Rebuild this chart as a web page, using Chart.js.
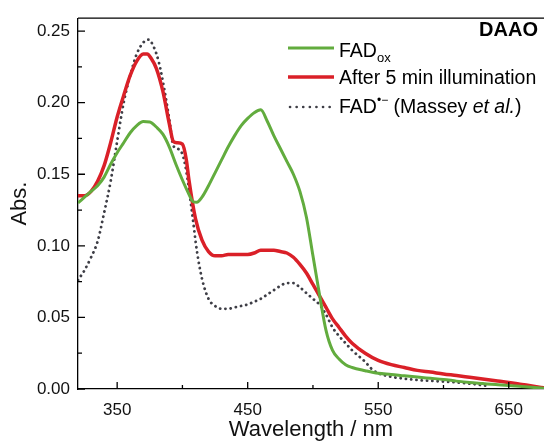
<!DOCTYPE html>
<html>
<head>
<meta charset="utf-8">
<script src="https://cdn.jsdelivr.net/npm/chart.js@4.4.1/dist/chart.umd.min.js"></script>
<style>
  html, body { margin: 0; padding: 0; background: #fff; }
  #wrap { width: 544px; height: 441px; }
</style>
</head>
<body>
<div id="wrap"><canvas id="absChart"></canvas></div>
<script>
// FAD ox (green)
var oxNm  = [320, 325, 330, 335, 340, 345, 350, 355, 360, 365, 370, 375, 380, 385, 390, 395, 400, 405, 408, 411, 415, 420, 425, 430, 435, 440, 445, 450, 455, 460, 465, 470, 475, 480, 485, 490, 495, 500, 505, 510, 515, 520, 525, 530, 540, 550, 560, 570, 580, 590, 600, 610, 620, 630, 640, 650, 660, 670, 677];
var oxAbs = [0.130, 0.134, 0.138, 0.142, 0.148, 0.157, 0.165, 0.172, 0.179, 0.184, 0.1868, 0.1865, 0.183, 0.178, 0.169, 0.157, 0.146, 0.136, 0.131, 0.1305, 0.134, 0.142, 0.151, 0.160, 0.169, 0.177, 0.184, 0.189, 0.193, 0.195, 0.187, 0.177, 0.168, 0.159, 0.150, 0.138, 0.120, 0.093, 0.066, 0.041, 0.027, 0.021, 0.017, 0.015, 0.0128, 0.011, 0.0102, 0.0092, 0.0083, 0.0075, 0.0067, 0.0055, 0.0045, 0.0038, 0.0031, 0.0025, 0.0017, 0.001, 0.0006];

// after 5 min illumination (red)
var illNm  = [320, 325, 330, 335, 340, 345, 350, 355, 360, 365, 370, 373, 376, 380, 385, 390, 393, 396, 400, 403, 405, 410, 415, 420, 425, 430, 435, 440, 445, 450, 455, 460, 465, 470, 475, 480, 485, 490, 495, 500, 505, 510, 515, 520, 525, 530, 540, 550, 560, 570, 580, 590, 600, 610, 620, 630, 640, 650, 660, 670, 677];
var illAbs = [0.135, 0.135, 0.138, 0.145, 0.156, 0.172, 0.190, 0.205, 0.219, 0.229, 0.234, 0.234, 0.231, 0.224, 0.208, 0.185, 0.173, 0.172, 0.171, 0.160, 0.146, 0.119, 0.104, 0.096, 0.093, 0.093, 0.094, 0.094, 0.094, 0.094, 0.095, 0.097, 0.097, 0.097, 0.096, 0.095, 0.092, 0.087, 0.081, 0.073, 0.065, 0.057, 0.049, 0.043, 0.037, 0.032, 0.025, 0.020, 0.017, 0.015, 0.013, 0.0118, 0.0105, 0.0094, 0.0082, 0.007, 0.0058, 0.0046, 0.0032, 0.0018, 0.0008];

// FAD semiquinone, Massey et al. (dotted)
var semNm  = [320, 325, 330, 335, 340, 345, 350, 355, 360, 365, 370, 374, 378, 382, 386, 390, 393, 396, 400, 403, 407, 411, 415, 420, 425, 430, 435, 440, 445, 450, 455, 460, 465, 470, 475, 480, 485, 490, 495, 500, 505, 510, 515, 520, 525, 530, 535, 540, 545, 550, 555, 560, 570, 580, 590, 600, 610, 620, 630, 635];
var semAbs = [0.076, 0.083, 0.092, 0.103, 0.123, 0.145, 0.173, 0.200, 0.219, 0.234, 0.242, 0.244, 0.239, 0.228, 0.210, 0.188, 0.170, 0.168, 0.164, 0.152, 0.126, 0.097, 0.077, 0.063, 0.058, 0.056, 0.056, 0.057, 0.058, 0.059, 0.061, 0.063, 0.066, 0.069, 0.072, 0.074, 0.074, 0.071, 0.067, 0.063, 0.059, 0.052, 0.043, 0.037, 0.032, 0.027, 0.023, 0.019, 0.014, 0.011, 0.0095, 0.0085, 0.0072, 0.0063, 0.0057, 0.0052, 0.0046, 0.0038, 0.0026, 0.0022];

// ticks
var xTicks = [350, 450, 550, 650];
var xMinor = [400, 500, 600];
var yTicks = [0, 0.05, 0.10, 0.15, 0.20, 0.25];
var yMinor = [0.025, 0.075, 0.125, 0.175, 0.225];

var GREEN = 'rgb(98,172,62)';
var RED = 'rgb(218,32,40)';
var GREY = 'rgb(62,62,70)';
var FONT = '"Liberation Sans", Arial, sans-serif';

function pts(xs, ys) {
    var out = [];
    for (var i = 0; i < xs.length; i++) out.push({x: xs[i], y: ys[i]});
    return out;
}

// frame top line + inward tick marks
var frameTicks = {
    id: 'frameTicks',
    afterDatasetsDraw: function (chart) {
        var ctx = chart.ctx, a = chart.chartArea;
        var x = chart.scales.x, y = chart.scales.y;
        ctx.save();
        ctx.strokeStyle = '#000';
        ctx.lineWidth = 1.3;
        ctx.beginPath();
        ctx.moveTo(a.left, a.top); ctx.lineTo(a.right, a.top);
        xTicks.forEach(function (v) { var p = x.getPixelForValue(v); ctx.moveTo(p, a.bottom); ctx.lineTo(p, a.bottom - 7); });
        xMinor.forEach(function (v) { var p = x.getPixelForValue(v); ctx.moveTo(p, a.bottom); ctx.lineTo(p, a.bottom - 4); });
        yTicks.forEach(function (v) { var p = y.getPixelForValue(v); ctx.moveTo(a.left, p); ctx.lineTo(a.left + 7, p); });
        yMinor.forEach(function (v) { var p = y.getPixelForValue(v); ctx.moveTo(a.left, p); ctx.lineTo(a.left + 4, p); });
        ctx.stroke();
        ctx.restore();
    }
};

// legend with sub/superscripts and italics
var richLegend = {
    id: 'richLegend',
    afterDraw: function (chart) {
        var ctx = chart.ctx;
        ctx.save();
        ctx.fillStyle = '#000';
        ctx.textBaseline = 'alphabetic';

        ctx.font = 'bold 20px ' + FONT;
        ctx.textAlign = 'right';
        ctx.fillText('DAAO', 538, 36);
        ctx.textAlign = 'left';

        ctx.lineCap = 'butt';
        ctx.lineWidth = 3;
        ctx.strokeStyle = GREEN;
        ctx.beginPath(); ctx.moveTo(288, 48); ctx.lineTo(334, 48); ctx.stroke();
        ctx.strokeStyle = RED;
        ctx.lineWidth = 3.5;
        ctx.beginPath(); ctx.moveTo(288, 77); ctx.lineTo(334, 77); ctx.stroke();
        ctx.strokeStyle = GREY;
        ctx.lineWidth = 2.6;
        ctx.lineCap = 'round';
        ctx.setLineDash([0.1, 6.5]);
        ctx.beginPath(); ctx.moveTo(290, 107); ctx.lineTo(333, 107); ctx.stroke();
        ctx.setLineDash([]);

        var big = '19.5px ' + FONT;
        var tx = 339;
        ctx.font = big;
        ctx.fillText('FAD', tx, 57);
        var w = ctx.measureText('FAD').width;
        ctx.font = '13px ' + FONT;
        ctx.fillText('ox', tx + w, 62);

        ctx.font = big;
        ctx.fillText('After 5 min illumination', tx, 84);

        ctx.fillText('FAD', tx, 113);
        var cx = tx + ctx.measureText('FAD').width;
        ctx.font = '12px ' + FONT;
        ctx.fillText('\u2022\u2212', cx, 104);
        cx += ctx.measureText('\u2022\u2212').width;
        ctx.font = big;
        ctx.fillText(' (Massey ', cx, 113);
        cx += ctx.measureText(' (Massey ').width;
        ctx.font = 'italic 19.5px ' + FONT;
        ctx.fillText('et al.', cx, 113);
        cx += ctx.measureText('et al.').width;
        ctx.font = big;
        ctx.fillText(')', cx, 113);
        ctx.restore();
    }
};

var ctxA = document.getElementById('absChart').getContext('2d');
var absChart = new Chart(ctxA, {
    type: 'line',
    data: {
        datasets: [{
            label: 'FADox',
            data: pts(oxNm, oxAbs),
            borderColor: GREEN,
            borderWidth: 3,
            pointRadius: 0,
            cubicInterpolationMode: 'monotone'
        },
        {
            label: 'After 5 min illumination',
            data: pts(illNm, illAbs),
            borderColor: RED,
            borderWidth: 3.5,
            pointRadius: 0,
            cubicInterpolationMode: 'monotone'
        },
        {
            label: 'FAD semiquinone (Massey et al.)',
            data: pts(semNm, semAbs),
            borderColor: GREY,
            borderWidth: 2.8,
            borderDash: [0.1, 5.2],
            borderCapStyle: 'round',
            pointRadius: 0,
            cubicInterpolationMode: 'monotone'
        }]
    },
    options: {
        responsive: true,
        maintainAspectRatio: false,
        animation: false,
        layout: { padding: { top: 12, right: 0, left: 0, bottom: 0 } },
        plugins: {
            legend: { display: false },
            tooltip: { enabled: false }
        },
        scales: {
            x: {
                type: 'linear',
                min: 320,
                max: 677,
                afterBuildTicks: function (s) { s.ticks = xTicks.map(function (v) { return {value: v}; }); },
                afterFit: function (s) { s.height = 52; },
                grid: { display: false, drawTicks: false },
                border: { display: true, color: '#000', width: 1.3 },
                ticks: {
                    padding: 11,
                    color: '#111',
                    font: { family: FONT, size: 17 },
                    maxRotation: 0,
                    callback: function (v) { return String(v); }
                },
                title: {
                    display: true,
                    text: 'Wavelength / nm',
                    color: '#111',
                    font: { family: FONT, size: 22, lineHeight: 1 },
                    padding: { top: 0, bottom: 0 }
                }
            },
            y: {
                min: 0,
                max: 0.259,
                afterBuildTicks: function (s) { s.ticks = yTicks.map(function (v) { return {value: v}; }); },
                afterFit: function (s) { s.width = 78; },
                grid: { display: false, drawTicks: false },
                border: { display: true, color: '#000', width: 1.3 },
                ticks: {
                    padding: 8,
                    color: '#111',
                    font: { family: FONT, size: 17 },
                    callback: function (v) { return v.toFixed(2); }
                },
                title: {
                    display: true,
                    text: 'Abs.',
                    color: '#111',
                    font: { family: FONT, size: 22, lineHeight: 1 },
                    padding: { top: 9, bottom: 0 }
                }
            }
        }
    },
    plugins: [frameTicks, richLegend]
});
</script>
</body>
</html>
